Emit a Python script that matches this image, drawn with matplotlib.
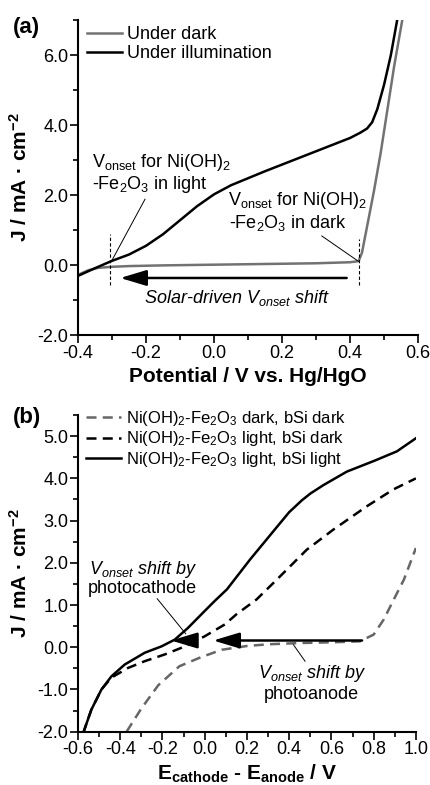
import matplotlib
matplotlib.use("Agg")
import matplotlib.pyplot as plt
from matplotlib.ticker import MultipleLocator, FormatStrFormatter

plt.rcParams['font.family'] = ['Liberation Sans', 'DejaVu Sans']
plt.rcParams['mathtext.fontset'] = 'custom'
plt.rcParams['mathtext.rm'] = 'Liberation Sans'
plt.rcParams['mathtext.it'] = 'Liberation Sans:italic'
plt.rcParams['mathtext.bf'] = 'Liberation Sans:bold'
plt.rcParams['mathtext.default'] = 'regular'
plt.rcParams['axes.unicode_minus'] = False

# ---------------- data: panel (a) ----------------
V_light = [-0.40, -0.35, -0.30, -0.25, -0.20, -0.15, -0.10, -0.05, 0.00, 0.05, 0.10,
           0.15, 0.20, 0.25, 0.30, 0.35, 0.40, 0.43, 0.45, 0.465, 0.48, 0.50, 0.52, 0.538]
J_light = [-0.31, -0.09, 0.12, 0.30, 0.55, 0.88, 1.28, 1.68, 2.02, 2.28, 2.48,
           2.68, 2.87, 3.06, 3.25, 3.44, 3.63, 3.78, 3.90, 4.08, 4.45, 5.15, 6.00, 6.97]

V_dark = [-0.40, -0.37, -0.34, -0.30, -0.25, -0.15, 0.00, 0.15, 0.30, 0.40, 0.425,
          0.435, 0.445, 0.455, 0.47, 0.49, 0.51, 0.53, 0.553]
J_dark = [-0.28, -0.15, -0.08, -0.05, -0.03, -0.01, 0.01, 0.03, 0.05, 0.08, 0.11,
          0.35, 0.85, 1.35, 2.10, 3.20, 4.45, 5.70, 6.97]

labels_a = ["Under dark", "Under illumination"]

# ---------------- data: panel (b) ----------------
V_dd = [-0.37, -0.30, -0.22, -0.12, -0.02, 0.08, 0.20, 0.30, 0.45, 0.62, 0.735,
        0.80, 0.848, 0.895, 0.943, 1.00]
J_dd = [-2.0, -1.45, -0.90, -0.45, -0.24, -0.06, 0.03, 0.07, 0.10, 0.12, 0.14,
        0.30, 0.66, 1.13, 1.60, 2.35]

V_ld = [-0.576, -0.537, -0.489, -0.442, -0.363, -0.284, -0.189, -0.094, 0.00, 0.095,
        0.15, 0.245, 0.341, 0.483, 0.61, 0.768, 0.894, 1.00]
J_ld = [-2.04, -1.48, -1.00, -0.72, -0.49, -0.33, -0.17, 0.02, 0.26, 0.54,
        0.78, 1.13, 1.60, 2.31, 2.79, 3.34, 3.74, 4.00]

V_ll = [-0.576, -0.537, -0.489, -0.442, -0.379, -0.284, -0.205, -0.142, -0.079, 0.00,
        0.048, 0.105, 0.215, 0.342, 0.40, 0.46, 0.50, 0.562, 0.673, 0.80, 0.91, 1.00]
J_ll = [-2.04, -1.48, -1.00, -0.69, -0.41, -0.13, 0.02, 0.18, 0.46, 0.86,
        1.10, 1.37, 2.08, 2.85, 3.20, 3.48, 3.64, 3.84, 4.16, 4.41, 4.64, 4.95]

labels_b = [r"Ni(OH)$_2$-Fe$_2$O$_3$ dark, bSi dark",
            r"Ni(OH)$_2$-Fe$_2$O$_3$ light, bSi dark",
            r"Ni(OH)$_2$-Fe$_2$O$_3$ light, bSi light"]

GRAY = '#727272'
FS = 13

fig = plt.figure(figsize=(4.31, 7.85), dpi=100)
axa = fig.add_axes([0.181, 0.5732, 0.789, 0.4013])
axb = fig.add_axes([0.181, 0.0679, 0.784, 0.4034])


def style(ax):
    for s in ['top', 'right']:
        ax.spines[s].set_visible(False)
    for s in ['left', 'bottom']:
        ax.spines[s].set_linewidth(1.5)
    ax.tick_params(which='major', direction='out', length=5.5, width=1.2,
                   labelsize=FS, pad=1.5)
    ax.tick_params(which='minor', direction='out', length=3.5, width=1.2)
    ax.xaxis.set_major_formatter(FormatStrFormatter('%.1f'))
    ax.yaxis.set_major_formatter(FormatStrFormatter('%.1f'))


# ---------------- panel (a) ----------------
axa.plot(V_dark, J_dark, color=GRAY, lw=1.8, label=labels_a[0])
axa.plot(V_light, J_light, color='k', lw=1.8, label=labels_a[1])
axa.set_xlim(-0.4, 0.6)
axa.set_ylim(-2.0, 7.0)
axa.xaxis.set_major_locator(MultipleLocator(0.2))
axa.xaxis.set_minor_locator(MultipleLocator(0.1))
axa.yaxis.set_major_locator(MultipleLocator(2.0))
axa.yaxis.set_minor_locator(MultipleLocator(1.0))
style(axa)
axa.set_xlabel('Potential / V vs. Hg/HgO', fontsize=15, fontweight='bold')
axa.xaxis.set_label_coords(0.5, -0.10)
axa.set_ylabel(r'J / mA · cm$^{\mathbf{-2}}$', fontsize=15, fontweight='bold')
axa.yaxis.set_label_coords(-0.14, 0.5)
axa.legend(loc='upper left', bbox_to_anchor=(0.025, 0.98), frameon=False,
           fontsize=FS, handlelength=1.95, handletextpad=0.3, labelspacing=0.1,
           borderpad=0.0, borderaxespad=0.0)

# vertical dotted guides
axa.plot([-0.305, -0.305], [-0.58, 0.88], color='k', lw=0.8, ls=(0, (3, 2)))
axa.plot([0.426, 0.426], [-0.58, 0.74], color='k', lw=0.8, ls=(0, (3, 2)))
# pointer lines
axa.plot([-0.203, -0.301], [1.88, 0.12], color='k', lw=0.7)
axa.plot([0.317, 0.424], [0.83, 0.11], color='k', lw=0.7)
axa.text(-0.36, 2.92, r'V$_{onset}$ for Ni(OH)$_2$', fontsize=FS, va='center', ha='left')
axa.text(-0.36, 2.30, r'-Fe$_2$O$_3$ in light', fontsize=FS, va='center', ha='left')
axa.text(0.042, 1.83, r'V$_{onset}$ for Ni(OH)$_2$', fontsize=FS, va='center', ha='left')
axa.text(0.045, 1.21, r'-Fe$_2$O$_3$ in dark', fontsize=FS, va='center', ha='left')
axa.annotate('', xy=(-0.276, -0.37), xytext=(0.39, -0.37),
             arrowprops=dict(arrowstyle='-|>,head_length=0.8,head_width=0.24',
                             mutation_scale=20, lw=1.8, color='k',
                             shrinkA=0, shrinkB=0))
axa.text(0.068, -0.94, r'Solar-driven $\mathit{V}_{\mathit{onset}}$ shift', fontsize=FS,
         style='italic', ha='center', va='center')
fig.text(0.030, 0.978, '(a)', fontsize=16, fontweight='bold', ha='left', va='top')

# ---------------- panel (b) ----------------
axb.plot(V_dd, J_dd, color='#666666', lw=1.8, ls=(0, (4, 2.5)), label=labels_b[0])
axb.plot(V_ld, J_ld, color='k', lw=1.8, ls=(0, (4, 2.5)), label=labels_b[1])
axb.plot(V_ll, J_ll, color='k', lw=1.8, label=labels_b[2])
axb.set_xlim(-0.6, 1.0)
axb.set_ylim(-2.0, 5.5)
axb.xaxis.set_major_locator(MultipleLocator(0.2))
axb.xaxis.set_minor_locator(MultipleLocator(0.1))
axb.yaxis.set_major_locator(MultipleLocator(1.0))
axb.yaxis.set_minor_locator(MultipleLocator(0.5))
style(axb)
axb.set_xlabel(r'E$_{\mathbf{cathode}}$ - E$_{\mathbf{anode}}$ / V', fontsize=15,
               fontweight='bold')
axb.xaxis.set_label_coords(0.5, -0.098)
axb.set_ylabel(r'J / mA · cm$^{\mathbf{-2}}$', fontsize=15, fontweight='bold')
axb.yaxis.set_label_coords(-0.14, 0.5)
axb.legend(loc='upper left', bbox_to_anchor=(0.025, 1.02), frameon=False,
           fontsize=12, handlelength=2.1, handletextpad=0.3, labelspacing=0.1,
           borderpad=0.0, borderaxespad=0.0)

arrow_kw = dict(arrowstyle='-|>,head_length=0.8,head_width=0.24',
                mutation_scale=20, lw=1.8, color='k', shrinkA=0, shrinkB=0)
axb.annotate('', xy=(0.04, 0.16), xytext=(0.745, 0.16), arrowprops=arrow_kw)
axb.annotate('', xy=(-0.16, 0.16), xytext=(-0.05, 0.16), arrowprops=arrow_kw)
axb.plot([-0.225, -0.09], [1.15, 0.32], color='k', lw=0.7)
axb.plot([0.42, 0.475], [0.06, -0.33], color='k', lw=0.7)
axb.text(-0.294, 1.84, r'$\mathit{V}_{\mathit{onset}}$ shift by', fontsize=FS,
         style='italic', ha='center', va='center')
axb.text(-0.294, 1.40, 'photocathode', fontsize=FS, ha='center', va='center')
axb.text(0.507, -0.62, r'$\mathit{V}_{\mathit{onset}}$ shift by', fontsize=FS,
         style='italic', ha='center', va='center')
axb.text(0.507, -1.12, 'photoanode', fontsize=FS, ha='center', va='center')
fig.text(0.030, 0.482, '(b)', fontsize=16, fontweight='bold', ha='left', va='top')

fig.savefig('out.png', dpi=100)
